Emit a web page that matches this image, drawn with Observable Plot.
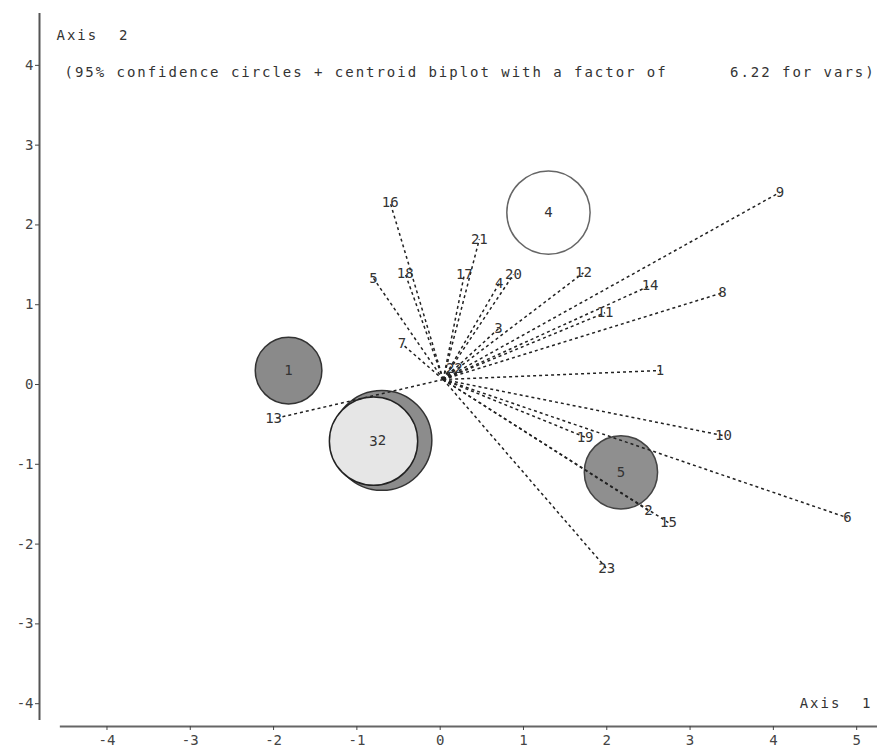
<!DOCTYPE html>
<html>
<head>
<meta charset="utf-8">
<script src="https://cdn.jsdelivr.net/npm/d3@7"></script>
<script src="https://cdn.jsdelivr.net/npm/@observablehq/plot@0.6"></script>
<style>
  html, body { margin: 0; padding: 0; background: #fff; }
  svg text { white-space: pre; }
</style>
</head>
<body>
<div id="chart"></div>
<script>
// ---- data ----
const varNames = ["1","2","3","4","5","6","7","8","9","10","11","12","13","14","15","16","17","18","19","20","21","22","23"];
const varX = [2.64, 2.50, 0.70, 0.71, -0.80, 4.89, -0.46, 3.39, 4.08, 3.40, 1.98, 1.72, -2.00, 2.52, 2.74, -0.60, 0.29, -0.42, 1.74, 0.88, 0.47, 0.17, 2.00];
const varY = [0.175, -1.58, 0.70, 1.27, 1.33, -1.67, 0.51, 1.15, 2.41, -0.64, 0.90, 1.40, -0.43, 1.24, -1.73, 2.28, 1.38, 1.39, -0.66, 1.38, 1.82, 0.20, -2.31];
const varOrigin = [0.036, 0.063];

const groupNames = ["1","2","3","4","5"];
const groupX = [-1.82, -0.70, -0.80, 1.30, 2.17];
const groupY = [0.175, -0.70, -0.71, 2.155, -1.10];
const groupRadius = [0.40, 0.60, 0.53, 0.50, 0.44];

const xTicks = [-4,-3,-2,-1,0,1,2,3,4,5];
const yTicks = [-4,-3,-2,-1,0,1,2,3,4];

const titleText = "Axis  2";
const subtitleText = "(95% confidence circles + centroid biplot with a factor of      6.22 for vars)";
const xLabelText = "Axis  1";

// ---- styles ----
const groupFills = ["#8a8a8a", "#8c8c8c", "#e6e6e6", "#ffffff", "#8f8f8f"];
const groupStrokes = ["#333", "#333", "#222", "#666", "#444"];

const vars = varNames.map((n, i) => ({name: n, x: varX[i], y: varY[i]}));
const groups = groupNames.map((n, i) => ({name: n, x: groupX[i], y: groupY[i], r: groupRadius[i], stroke: groupStrokes[i]}));

const W = 877, H = 751;
const mL = 39, mR = 0, mT = 13, mB = 25;
const xDomain = [-4.81, 5.25];
const yDomain = [-4.286, 4.65];
const pxPerUnit = (W - mL - mR) / (xDomain[1] - xDomain[0]);

const plot = Plot.plot({
  width: W, height: H,
  marginLeft: mL, marginRight: mR, marginTop: mT, marginBottom: mB,
  style: {fontFamily: "DejaVu Sans Mono", fontSize: "14px", color: "#444", background: "#fff"},
  x: {domain: xDomain},
  y: {domain: yDomain},
  r: {type: "linear", domain: [0, 1], range: [0, pxPerUnit]},
  color: {domain: groupNames, range: groupFills},
  marks: [
    // axis lines
    Plot.ruleY([yDomain[0]], {x1: -4.56, x2: xDomain[1], stroke: "#666", strokeWidth: 2}),
    Plot.ruleX([xDomain[0]], {y1: -4.21, y2: yDomain[1], stroke: "#555", strokeWidth: 2}),
    Plot.axisX({ticks: xTicks, label: null, tickSize: 4, tickPadding: 5, tickFormat: d => String(d), fontSize: 14, stroke: "#444", fill: "#444"}),
    Plot.axisY({ticks: yTicks, label: null, tickSize: 4, tickPadding: 2, tickFormat: d => String(d), fontSize: 14, stroke: "#444", fill: "#444"}),
    // confidence circles
    Plot.dot(groups, {x: "x", y: "y", r: "r", fill: "name", stroke: "stroke", strokeWidth: 1.5}),
    Plot.text(groups, {x: "x", y: "y", text: "name", fill: "#333", fontSize: 14}),
    // variable vectors
    Plot.link(vars, {x1: () => varOrigin[0], y1: () => varOrigin[1], x2: "x", y2: "y", stroke: "#222", strokeWidth: 1.5, strokeDasharray: "3,3"}),
    Plot.text(vars, {x: "x", y: "y", text: "name", fill: "#333", fontSize: 14}),
    // titles
    Plot.text([titleText], {frameAnchor: "top-left", text: d => d, dx: 17, dy: 17, textAnchor: "start", fill: "#333", fontSize: 14}),
    Plot.text([subtitleText], {frameAnchor: "top-left", text: d => d, dx: 25, dy: 54, textAnchor: "start", fill: "#333", fontSize: 14}),
    Plot.text([xLabelText], {frameAnchor: "bottom-right", text: d => d, dx: -5, dy: -19, textAnchor: "end", fill: "#333", fontSize: 14})
  ]
});
d3.select(plot).selectAll("text")
  .filter(function () { return [titleText, subtitleText, xLabelText].includes(this.textContent); })
  .style("letter-spacing", "1.97px");
document.getElementById("chart").appendChild(plot);
</script>
</body>
</html>
